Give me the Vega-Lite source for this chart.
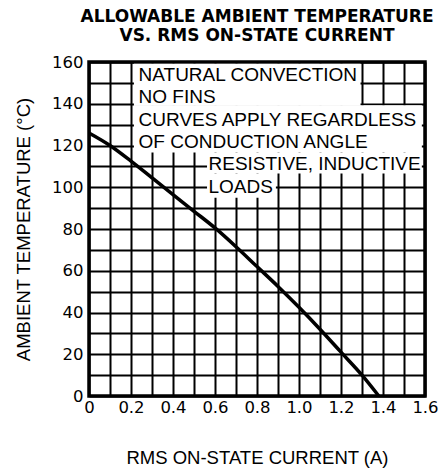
{
  "$schema": "https://vega.github.io/schema/vega-lite/v6.json",
  "width": 336,
  "height": 334,
  "autosize": {"type": "none"},
  "padding": {"left": 89, "top": 62, "right": 14, "bottom": 72},
  "background": "white",
  "title": {
    "text": ["ALLOWABLE AMBIENT TEMPERATURE", "VS. RMS ON-STATE CURRENT"],
    "anchor": "middle",
    "font": "DejaVu Sans",
    "fontSize": 17,
    "fontWeight": "bold",
    "lineHeight": 18.6,
    "color": "black",
    "offset": 9
  },
  "config": {
    "view": {"stroke": "black", "strokeWidth": 3.5},
    "axis": {
      "grid": true,
      "gridColor": "black",
      "gridWidth": 2,
      "gridOpacity": 1,
      "ticks": false,
      "domain": false,
      "labelFont": "DejaVu Sans",
      "labelFontSize": 16.5,
      "labelColor": "black",
      "labelOverlap": false,
      "labelFlush": false,
      "titleFont": "Liberation Sans",
      "titleFontSize": 18.5,
      "titleFontWeight": "normal",
      "titleColor": "black"
    }
  },
  "datasets": {
    "curve": [
      {"x": 0.0, "y": 126},
      {"x": 0.1, "y": 120},
      {"x": 0.2, "y": 112.5},
      {"x": 0.3, "y": 104.5},
      {"x": 0.4, "y": 96.5},
      {"x": 0.5, "y": 88.5},
      {"x": 0.6, "y": 80.5},
      {"x": 0.7, "y": 71.5},
      {"x": 0.8, "y": 62},
      {"x": 0.9, "y": 52.5},
      {"x": 1.0, "y": 42.5},
      {"x": 1.1, "y": 32},
      {"x": 1.2, "y": 21},
      {"x": 1.3, "y": 10},
      {"x": 1.38, "y": 0}
    ],
    "boxes": [
      {"x": 0.214, "x2": 1.293, "y": 139.0, "y2": 159.2},
      {"x": 0.214, "x2": 1.585, "y": 116.6, "y2": 139.3},
      {"x": 0.562, "x2": 1.585, "y": 106.6, "y2": 116.6},
      {"x": 0.562, "x2": 0.89, "y": 95.0, "y2": 106.6}
    ],
    "notes": [
      {"x": 0.236, "y": 150.9, "text": "NATURAL CONVECTION"},
      {"x": 0.236, "y": 140.2, "text": "NO FINS"},
      {"x": 0.236, "y": 129.5, "text": "CURVES APPLY REGARDLESS"},
      {"x": 0.236, "y": 118.9, "text": "OF CONDUCTION ANGLE"},
      {"x": 0.569, "y": 108.3, "text": "RESISTIVE, INDUCTIVE"},
      {"x": 0.569, "y": 97.1, "text": "LOADS"}
    ]
  },
  "encoding": {
    "x": {
      "field": "x",
      "type": "quantitative",
      "scale": {"domain": [0, 1.6], "nice": false, "zero": false},
      "axis": {
        "title": "RMS ON-STATE CURRENT  (A)",
        "values": [0, 0.1, 0.2, 0.3, 0.4, 0.5, 0.6, 0.7, 0.8, 0.9, 1.0, 1.1, 1.2, 1.3, 1.4, 1.5, 1.6],
        "labelExpr": "round(datum.value*10) % 2 == 1 ? '' : (datum.value == 0 ? '0' : format(datum.value, '.1f'))",
        "labelPadding": 3,
        "titlePadding": 33
      }
    },
    "y": {
      "field": "y",
      "type": "quantitative",
      "scale": {"domain": [0, 160], "nice": false, "zero": false},
      "axis": {
        "title": "AMBIENT TEMPERATURE  (°C)",
        "values": [0, 10, 20, 30, 40, 50, 60, 70, 80, 90, 100, 110, 120, 130, 140, 150, 160],
        "labelExpr": "round(datum.value) % 20 == 10 ? '' : format(datum.value, 'd')",
        "labelPadding": 6,
        "titlePadding": 18
      }
    }
  },
  "layer": [
    {
      "data": {"name": "boxes"},
      "mark": {"type": "rect", "fill": "white", "strokeWidth": 0},
      "encoding": {
        "x2": {"field": "x2"},
        "y2": {"field": "y2"}
      }
    },
    {
      "data": {"name": "notes"},
      "mark": {"type": "text", "align": "left", "baseline": "alphabetic", "font": "Liberation Sans", "fontSize": 19, "color": "black"},
      "encoding": {
        "text": {"field": "text"}
      }
    },
    {
      "data": {"name": "curve"},
      "mark": {"type": "line", "color": "black", "strokeWidth": 3.5, "interpolate": "monotone"},
      "encoding": {}
    }
  ]
}
